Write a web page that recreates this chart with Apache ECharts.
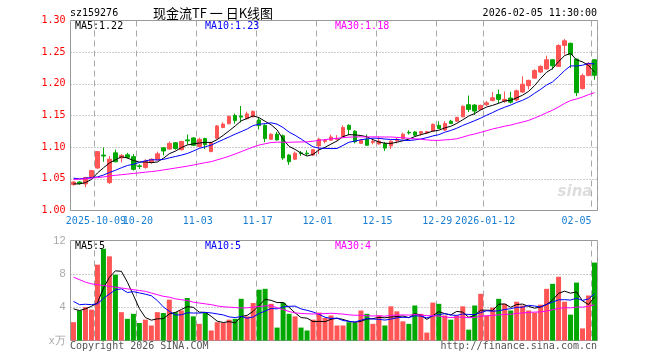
<!DOCTYPE html>
<html><head><meta charset="utf-8">
<script src="https://cdn.jsdelivr.net/npm/echarts@6/dist/echarts.min.js"></script>
<style>html,body{margin:0;padding:0;background:#fff}#c{width:660px;height:360px}</style>
</head><body><div id="c"></div>
<script>
const dates = [
'2025-09-25','2025-09-26','2025-09-29','2025-09-30',
'2025-10-09','2025-10-10','2025-10-13','2025-10-14','2025-10-15','2025-10-16','2025-10-17',
'2025-10-20','2025-10-21','2025-10-22','2025-10-23','2025-10-24',
'2025-10-27','2025-10-28','2025-10-29','2025-10-30','2025-10-31',
'2025-11-03','2025-11-04','2025-11-05','2025-11-06','2025-11-07',
'2025-11-10','2025-11-11','2025-11-12','2025-11-13','2025-11-14',
'2025-11-17','2025-11-18','2025-11-19','2025-11-20','2025-11-21',
'2025-11-24','2025-11-25','2025-11-26','2025-11-27','2025-11-28',
'2025-12-01','2025-12-02','2025-12-03','2025-12-04','2025-12-05',
'2025-12-08','2025-12-09','2025-12-10','2025-12-11','2025-12-12',
'2025-12-15','2025-12-16','2025-12-17','2025-12-18','2025-12-19',
'2025-12-22','2025-12-23','2025-12-24','2025-12-25','2025-12-26',
'2025-12-29','2025-12-30','2025-12-31',
'2026-01-05','2026-01-06','2026-01-07','2026-01-08','2026-01-09',
'2026-01-12','2026-01-13','2026-01-14','2026-01-15','2026-01-16',
'2026-01-19','2026-01-20','2026-01-21','2026-01-22','2026-01-23',
'2026-01-26','2026-01-27','2026-01-28','2026-01-29','2026-01-30',
'2026-02-02','2026-02-03','2026-02-04','2026-02-05'];

const opens = [1.041,1.045,1.042,1.052,
1.067,1.0875,1.044,1.091,1.083,1.088,1.085,1.0705,1.068,1.076,
1.080,1.099,1.097,1.107,1.096,1.1115,1.1145,1.101,1.1135,1.093,
1.114,1.131,1.137,1.150,1.149,1.145,1.148,1.143,1.1345,1.1125,
1.1205,1.118,1.0875,1.081,1.091,1.0905,1.0875,1.102,1.109,1.111,
1.1125,1.1165,1.1345,1.125,1.106,1.1125,1.1075,1.105,1.1055,1.102,
1.110,1.1135,1.1235,1.124,1.122,1.1225,1.1255,1.1345,1.127,1.141,
1.141,1.148,1.167,1.1665,1.1595,1.167,1.1735,1.183,1.1725,1.1775,
1.1745,1.187,1.197,1.209,1.2185,1.2235,1.238,1.2275,1.2605,1.264,
1.239,1.1925,1.213,1.238];
const closes = [1.045,1.043,1.052,1.063,
1.093,1.086,1.081,1.077,1.087,1.084,1.065,1.0695,1.078,1.081,
1.0895,1.094,1.106,1.098,1.109,1.110,1.103,1.1125,1.104,1.107,
1.1335,1.1365,1.1485,1.142,1.1475,1.1525,1.1565,1.134,1.1135,1.1205,
1.1115,1.083,1.077,1.0905,1.090,1.0895,1.096,1.1125,1.1105,1.116,
1.1135,1.131,1.128,1.1085,1.111,1.103,1.109,1.1095,1.0985,1.1095,
1.1125,1.1205,1.1225,1.119,1.1245,1.1245,1.136,1.1295,1.1375,1.1375,
1.147,1.1645,1.1595,1.157,1.166,1.170,1.178,1.1755,1.1755,1.171,
1.189,1.1995,1.2055,1.221,1.2275,1.238,1.2285,1.2605,1.268,1.246,
1.186,1.213,1.2325,1.2135];
const lows = [1.039,1.041,1.037,1.051,
1.066,1.077,1.042,1.076,1.076,1.082,1.063,1.0655,1.066,1.074,
1.079,1.087,1.096,1.096,1.095,1.104,1.102,1.0995,1.097,1.092,
1.1125,1.130,1.136,1.137,1.139,1.144,1.147,1.128,1.108,1.1115,
1.1105,1.080,1.072,1.080,1.086,1.0865,1.086,1.089,1.106,1.110,
1.111,1.1155,1.119,1.106,1.105,1.102,1.1045,1.104,1.094,1.097,
1.106,1.1125,1.120,1.1175,1.118,1.121,1.1245,1.1285,1.1255,1.1365,
1.140,1.147,1.1555,1.151,1.1585,1.165,1.1725,1.169,1.170,1.169,
1.1725,1.1855,1.191,1.208,1.217,1.2225,1.2225,1.2265,1.246,1.225,
1.1805,1.191,1.212,1.2065];
const highs = [1.046,1.046,1.053,1.064,
1.094,1.0995,1.086,1.096,1.089,1.091,1.089,1.073,1.081,1.082,
1.093,1.100,1.109,1.108,1.110,1.120,1.116,1.115,1.115,1.109,
1.135,1.139,1.150,1.153,1.165,1.156,1.158,1.147,1.136,1.122,
1.124,1.120,1.089,1.093,1.094,1.095,1.097,1.115,1.1125,1.120,
1.119,1.1345,1.136,1.127,1.1125,1.120,1.1135,1.1165,1.108,1.1105,
1.1145,1.123,1.1265,1.125,1.1255,1.1255,1.1375,1.141,1.141,1.143,
1.148,1.166,1.1815,1.168,1.167,1.173,1.187,1.191,1.188,1.1875,
1.191,1.212,1.2065,1.223,1.2295,1.2445,1.239,1.2625,1.271,1.265,
1.240,1.216,1.234,1.239];

const ma5 = [1.042,1.042,1.044,1.049,
1.0592,1.0674,1.075,1.080,1.0848,1.083,1.0788,1.0765,1.0767,1.0755,
1.0766,1.0824,1.0897,1.0937,1.0993,1.1034,1.1052,1.1065,1.1077,1.1073,
1.112,1.1187,1.1259,1.1335,1.1416,1.1454,1.1494,1.1465,1.1408,1.1354,
1.1272,1.1125,1.1011,1.0965,1.0904,1.086,1.0886,1.0957,1.0997,1.1049,
1.1097,1.1167,1.1198,1.1194,1.1184,1.1163,1.1119,1.1082,1.1062,1.1059,
1.1078,1.1101,1.1127,1.1168,1.1198,1.1222,1.1253,1.1267,1.1304,1.133,
1.1375,1.1432,1.1492,1.1531,1.1588,1.1634,1.1661,1.1693,1.173,1.174,
1.1778,1.1821,1.1881,1.1972,1.2085,1.2183,1.2241,1.2351,1.2445,1.2482,
1.2378,1.2347,1.2291,1.2182];
const ma10 = [1.051,1.050,1.051,1.052,
1.053,1.056,1.060,1.0635,1.0675,1.0711,1.0731,1.0758,1.0784,1.0802,
1.0798,1.0806,1.0831,1.0852,1.0874,1.09,1.0938,1.0981,1.1007,1.1033,
1.1077,1.112,1.1162,1.1206,1.1245,1.1287,1.1341,1.1362,1.1372,1.1385,
1.1363,1.131,1.1238,1.1187,1.1129,1.1066,1.1006,1.0984,1.0981,1.0977,
1.0979,1.1027,1.1078,1.1096,1.1117,1.113,1.1143,1.114,1.1128,1.1122,
1.1121,1.111,1.1105,1.1115,1.1129,1.115,1.1177,1.1197,1.1236,1.1264,
1.1299,1.1343,1.138,1.1418,1.1459,1.1505,1.1547,1.1593,1.1631,1.1664,
1.1706,1.1741,1.1787,1.1851,1.1913,1.1981,1.2031,1.2116,1.2209,1.2284,
1.2281,1.2294,1.2321,1.2314];
const ma30 = [1.049,1.0495,1.050,1.051,
1.052,1.053,1.0545,1.0555,1.0565,1.0575,1.0585,1.0595,1.0605,1.0615,
1.0625,1.064,1.0655,1.067,1.0685,1.070,1.0718,1.0737,1.0755,1.0772,
1.080,1.0827,1.0858,1.0893,1.0929,1.0966,1.1003,1.1033,1.1054,1.1073,
1.1079,1.1078,1.1077,1.1081,1.1082,1.1084,1.1094,1.1108,1.1119,1.1131,
1.1139,1.1151,1.1158,1.1162,1.1163,1.1161,1.1163,1.1162,1.116,1.1161,
1.1154,1.1149,1.114,1.1132,1.1125,1.1115,1.1108,1.1107,1.1115,1.1121,
1.1132,1.1159,1.1187,1.1209,1.1234,1.1261,1.1288,1.1309,1.1331,1.1349,
1.1374,1.1397,1.1423,1.146,1.1499,1.1544,1.1584,1.1634,1.1691,1.1736,
1.1761,1.1792,1.1829,1.186];

const volumes = [2.2,3.6,4.0,3.7,
9.1,11.0,10.1,7.9,3.4,2.6,3.2,2.1,2.5,1.8,
3.4,3.3,4.9,3.4,3.6,5.1,2.9,2.0,3.3,1.2,
2.2,2.1,2.5,2.6,5.0,2.9,4.5,6.1,6.2,4.4,
1.55,4.55,3.2,2.9,1.55,1.2,2.5,3.35,2.7,3.0,
1.8,1.8,2.2,2.1,3.6,3.2,2.0,3.0,1.8,4.1,
3.5,2.3,2.0,4.2,3.2,0.95,4.55,4.4,3.0,2.5,
3.0,4.1,1.3,4.2,5.6,3.0,3.95,5.0,4.4,3.6,
4.65,4.2,3.6,3.35,4.3,6.2,6.8,7.65,4.65,3.1,
6.95,1.45,5.4,9.35];
const volMa5 = [3.8,3.6,3.8,4.1,
4.52,6.28,7.58,8.36,8.3,7.0,5.44,3.84,2.76,2.44,
2.6,2.62,3.18,3.36,3.72,4.06,3.98,3.4,3.38,2.9,
2.32,2.16,2.26,2.12,2.88,3.02,3.5,4.22,4.94,4.82,
4.55,4.56,3.98,3.32,2.75,2.68,2.27,2.3,2.26,2.55,
2.67,2.53,2.3,2.18,2.3,2.58,2.62,2.78,2.72,2.82,
2.88,2.94,2.74,3.22,3.04,2.53,2.98,3.46,3.22,3.08,
3.49,3.4,2.78,3.02,3.64,3.64,3.61,4.35,4.39,3.99,
4.32,4.37,4.09,3.88,4.02,4.33,4.85,5.66,5.92,5.68,
5.83,4.76,4.31,5.25];
const volMa10 = [4.7,4.3,4.35,4.3,
4.4,5.04,5.59,6.08,6.2,5.76,5.86,5.71,5.56,5.37,
4.8,4.03,3.51,3.06,3.08,3.33,3.3,3.29,3.37,3.31,
3.19,3.07,2.83,2.75,2.89,2.67,2.83,3.24,3.53,3.85,
3.79,4.03,4.1,4.13,3.79,3.62,3.42,3.14,2.79,2.65,
2.68,2.4,2.3,2.22,2.43,2.63,2.58,2.54,2.45,2.56,
2.73,2.78,2.76,2.97,2.93,2.71,2.96,3.1,3.22,3.06,
3.01,3.19,3.12,3.12,3.36,3.57,3.51,3.57,3.71,3.82,
3.98,3.99,4.22,4.14,4.01,4.33,4.61,4.88,4.9,4.85,
5.08,4.81,4.99,5.59];
const volMa30 = [7.6,7.3,7.0,6.8,
6.7,6.6,6.5,6.4,6.3,6.2,6.1,6.0,5.9,5.7,
5.5,5.3,5.2,5.0,4.9,4.8,4.6,4.5,4.4,4.3,
4.15,4.05,4.0,3.95,3.9,3.92,4.0,4.08,4.15,4.18,
3.93,3.71,3.48,3.31,3.25,3.21,3.18,3.22,3.23,3.27,
3.22,3.17,3.08,3.03,3.03,2.97,2.94,2.97,2.92,3.02,
3.06,3.07,3.05,3.11,3.05,2.98,2.98,2.93,2.82,2.76,
2.81,2.79,2.73,2.77,2.91,2.97,3.01,3.07,3.13,3.15,
3.24,3.32,3.37,3.41,3.43,3.53,3.69,3.85,3.94,3.91,
4.02,4.0,4.11,4.28];

const xTickDates = ['2025-10-09','2025-10-20','2025-11-03','2025-11-17','2025-12-01','2025-12-15','2025-12-29','2026-01-12','2026-02-05'];
const xTickText  = ['2025-10-09','10-20','11-03','11-17','12-01','12-15','12-29','2026-01-12','02-05'];
const priceMin = 1.00, priceMax = 1.30, priceStep = 0.05;
const volMin = 0, volMax = 12, volStep = 4;

const chart = echarts.init(document.getElementById('c'), null, {renderer: 'canvas'});
const MONO = '"DejaVu Sans Mono", "Liberation Mono", monospace';
const UP = '#ff5555', DOWN = '#00a800';
const candles = dates.map((d, i) => [opens[i], closes[i], lows[i], highs[i]]);
const volData = volumes.map((v, i) => ({value: v, itemStyle: {color: closes[i] >= opens[i] ? UP : DOWN}}));
const isTick = (i, v) => xTickDates.indexOf(v) >= 0;
const firstTick = (i, v) => v === xTickDates[0];
const laterTick = (i, v) => xTickDates.indexOf(v) > 0;
const splitV = {show: true, interval: isTick, lineStyle: {color: '#a8a8a8', width: 1, type: [6, 4]}};
const splitH = {show: true, showMinLine: false, showMaxLine: false, lineStyle: {color: '#999', width: 1, type: [1, 2]}};
const gridBase = {left: 70.5, width: 527, show: true, borderColor: '#999', borderWidth: 1, backgroundColor: 'transparent', containLabel: false, outerBoundsMode: 'none'};
const lineS = (name, data, color, xi, yi) => ({name, type: 'line', data, xAxisIndex: xi, yAxisIndex: yi, symbol: 'none', showSymbol: false, smooth: false, silent: true, lineStyle: {color, width: 1}, z: 3});
const labelBase = {formatter: v => xTickText[xTickDates.indexOf(v)], color: '#1a7fd2',
  fontFamily: MONO, fontSize: 10, margin: 6, padding: [0, 3, 0, 0], hideOverlap: false};
function txt(x, y, text, fill, font, align) {
  return {type: 'text', x, y, silent: true, z: 100,
    style: {text, fill, font, align: align || 'left', textAlign: align || 'left', verticalAlign: 'middle', textVerticalAlign: 'middle'}};
}
const F10 = '10px ' + MONO;

chart.setOption({
  animation: false,
  backgroundColor: '#fff',
  grid: [
    Object.assign({top: 20.5, height: 190}, gridBase),
    Object.assign({top: 240.5, height: 100}, gridBase)
  ],
  xAxis: [
    {type: 'category', gridIndex: 0, data: dates, boundaryGap: true, position: 'bottom',
     axisLine: {show: false}, axisTick: {show: false}, splitLine: splitV,
     axisLabel: Object.assign({interval: laterTick, alignMaxLabel: 'right', showMaxLabel: true}, labelBase)},
    {type: 'category', gridIndex: 1, data: dates, boundaryGap: true,
     axisLine: {show: false}, axisTick: {show: false}, splitLine: splitV, axisLabel: {show: false}},
    {type: 'category', gridIndex: 0, data: dates, boundaryGap: true, position: 'bottom', offset: 0,
     axisLine: {show: false}, axisTick: {show: false}, splitLine: {show: false},
     axisLabel: Object.assign({interval: firstTick}, labelBase)}
  ],
  yAxis: [
    {type: 'value', gridIndex: 0, min: priceMin, max: priceMax, interval: priceStep, scale: false,
     axisLine: {show: false}, axisTick: {show: false}, splitLine: splitH,
     axisLabel: {color: '#ff0000', fontFamily: MONO, fontSize: 10, margin: 5, showMinLabel: true, showMaxLabel: true,
       formatter: v => v.toFixed(2)}},
    {type: 'value', gridIndex: 1, min: volMin, max: volMax, interval: volStep,
     axisLine: {show: false}, axisTick: {show: false}, splitLine: splitH,
     axisLabel: {color: '#aaa', fontFamily: '"Liberation Sans", Arial, sans-serif', fontSize: 11, margin: 5,
       showMinLabel: true, showMaxLabel: true, formatter: v => v === 0 ? 'x万' : String(v)}}
  ],
  series: [
    {name: 'K', type: 'candlestick', xAxisIndex: 0, yAxisIndex: 0, data: candles, barWidth: 4, silent: true,
     itemStyle: {color: UP, color0: DOWN, borderColor: UP, borderColor0: DOWN, borderWidth: 1}},
    lineS('MA5', ma5, '#000000', 0, 0),
    lineS('MA10', ma10, '#0000ff', 0, 0),
    lineS('MA30', ma30, '#ff00ff', 0, 0),
    {name: 'VOL', type: 'bar', xAxisIndex: 1, yAxisIndex: 1, data: volData, barWidth: 5, silent: true},
    lineS('VMA5', volMa5, '#000000', 1, 1),
    lineS('VMA10', volMa10, '#0000ff', 1, 1),
    lineS('VMA30', volMa30, '#ff00ff', 1, 1)
  ],
  graphic: [
    txt(70, 13, 'sz159276', '#000', F10),
    txt(213, 13, '现金流TF 一 日K线图', '#000', '13px "Noto Sans CJK SC"', 'center'),
    txt(597, 13, '2026-02-05 11:30:00', '#000', F10, 'right'),
    txt(75, 26, 'MA5:1.22', '#000', F10),
    txt(205, 26, 'MA10:1.23', '#0000ff', F10),
    txt(335, 26, 'MA30:1.18', '#ff00ff', F10),
    txt(75, 246, 'MA5:5', '#000', F10),
    txt(205, 246, 'MA10:5', '#0000ff', F10),
    txt(335, 246, 'MA30:4', '#ff00ff', F10),
    txt(70, 346, 'Copyright 2026 SINA.COM', '#555', F10),
    txt(597, 346, 'http://finance.sina.com.cn', '#555', F10, 'right'),
    txt(575, 192, 'sina', '#dddddd', 'italic bold 15px "DejaVu Sans"', 'center')
  ]
});
</script></body></html>
